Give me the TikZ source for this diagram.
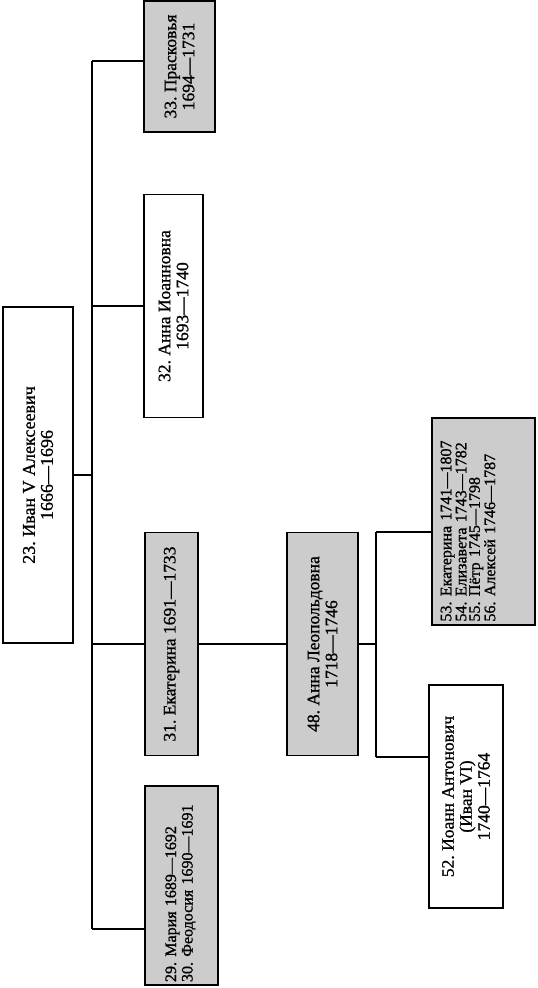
\documentclass[tikz,border=0pt]{standalone}
\usepackage{fontspec}
\setmainfont{Liberation Serif}[FakeBold=1.0]
\begin{document}
\frenchspacing
\begin{tikzpicture}[x=1pt,y=-1pt]
\tikzset{
  box/.style={draw, line width=1.5pt, rotate=90, inner sep=0pt, align=center,
    font=\fontsize{17.5}{18}\selectfont\frenchspacing},
  shaded/.style={box, fill=black!20},
  link/.style={line width=1.5pt},
  lefttext/.style={rotate=90, inner sep=0pt, align=left}
}
\useasboundingbox (0,0) rectangle (538,988);
% boxes (minimum width = vertical extent, minimum height = horizontal extent)
\node[box, minimum width=336pt, minimum height=70pt, font=\fontsize{18}{18}\selectfont\frenchspacing] (n23) at (38,475)
  {23. Иван V Алексеевич\\1666—1696};
\node[shaded, minimum width=131pt, minimum height=71pt] (n33) at (179.5,66.5)
  {33. Прасковья\\1694—1731};
\node[box, minimum width=223pt, minimum height=59pt] (n32) at (173.5,306)
  {32. Анна Иоанновна\\1693—1740};
\node[shaded, minimum width=223pt, minimum height=53pt] (n31) at (171.5,644)
  {31. Екатерина 1691—1733};
\node[shaded, minimum width=199pt, minimum height=73pt] (n29) at (181.5,885.5) {};
\node[lefttext, text width=193pt, font=\fontsize{16}{16.5}\selectfont\frenchspacing] (t29) at (180.5,885.5)
  {29. Мария 1689—1692\\30. Феодосия 1690—1691};
\node[shaded, minimum width=223pt, minimum height=71pt] (n48) at (322.5,644)
  {48. Анна Леопольдовна\\1718—1746};
\node[shaded, minimum width=207pt, minimum height=103pt] (n53) at (483.5,521.5) {};
\node[lefttext, text width=200pt, font=\fontsize{16}{13.5}\selectfont\frenchspacing] (t53) at (468,521.5)
  {53. Екатерина 1741—1807\\54. Елизавета 1743—1782\\55. Пётр 1745—1798\\56. Алексей 1746—1787};
\node[box, minimum width=223pt, minimum height=74pt] (n52) at (466,796.5)
  {52. Иоанн Антонович\\(Иван VI)\\1740—1764};
% trunk
\coordinate (tTop) at (92,61);
\coordinate (tBot) at (92,929);
\draw[link] (tTop) -- (tBot);
\draw[link] (n23.south) -- (n23.south -| tTop);
\draw[link] (tTop) -- (tTop -| n33.north);
\draw[link] (n32.north -| tTop) -- (n32.north);
\draw[link] (n31.north -| tTop) -- (n31.north);
\draw[link] (tBot) -- (tBot -| n29.north);
\draw[link] (n31.south) -- (n48.north);
% children of 48
\coordinate (cTop) at (376,532);
\coordinate (cBot) at (376,757);
\draw[link] (cTop) -- (cBot);
\draw[link] (n48.south) -- (n48.south -| cTop);
\draw[link] (cTop) -- (cTop -| n53.north);
\draw[link] (cBot) -- (cBot -| n52.north);
\end{tikzpicture}
\end{document}
